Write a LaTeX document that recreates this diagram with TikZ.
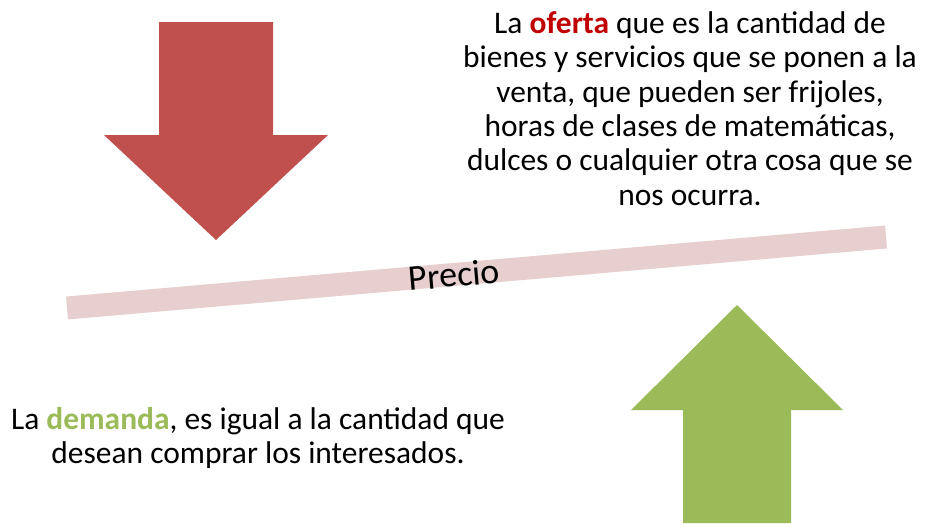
\documentclass[tikz,border=0pt]{standalone}
\usepackage{fontspec}
\setmainfont{Carlito}
\usetikzlibrary{calc}
\definecolor{ofertaRed}{HTML}{C0504D}
\definecolor{ofertaText}{HTML}{C00000}
\definecolor{demandaGreen}{HTML}{9BBB59}
\definecolor{precioBar}{HTML}{E8CFCF}
\tikzset{
  txt/.style={font=\fontsize{17.9}{19.6}\selectfont, align=center, inner sep=0pt},
  bartxt/.style={font=\fontsize{20.5}{24}\selectfont, inner sep=0pt, rotate=4.95},
}
\begin{document}
\begin{tikzpicture}[x=0.2mm,y=-0.2mm]
    \useasboundingbox (0,0) rectangle (925,523);
    \coordinate (BarLeft)  at (67,308);
    \coordinate (BarRight) at (886,237);

    % the price bar
    \draw[line width=4.6mm,precioBar] (BarLeft) -- (BarRight);
    \node[bartxt] (precio) at ($(BarLeft)!0.4725!(BarRight)$) {Precio};

    % supply pushes down, demand pushes up
    \coordinate (OfertaTip)  at (216,240);
    \coordinate (DemandaTip) at (737,305);
    \fill[ofertaRed] (159,22) -- (273,22) -- (273,135) -- (328,135)
      -- (OfertaTip) -- (104,135) -- (159,135) -- cycle;
    \fill[demandaGreen] (DemandaTip) -- (843,410) -- (791,410) -- (791,523)
      -- (683,523) -- (683,410) -- (631,410) -- cycle;

    \node[txt,anchor=north] (oferta) at (690,11)
      {La \textcolor{ofertaText}{\textbf{oferta}} que es la cantidad de\\
       bienes y servicios que se ponen a la\\
       venta, que pueden ser frijoles,\\
       horas de clases de matemáticas,\\
       dulces o cualquier otra cosa que se\\
       nos ocurra.};
    \node[txt,anchor=north] (demanda) at (258,407)
      {La \textcolor{demandaGreen}{\textbf{demanda}}, es igual a la cantidad que\\
       desean comprar los interesados.};
\end{tikzpicture}
\end{document}
